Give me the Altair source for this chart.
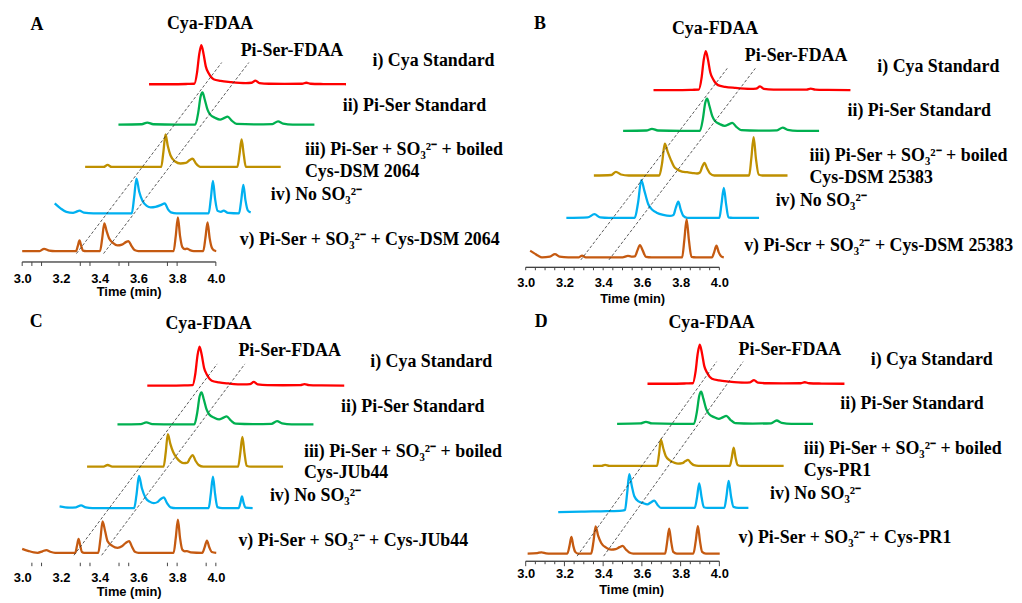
import altair as alt
import pandas as pd

# ---------------- data ----------------
# Each trace: (own retention time in min, intensity in a.u. above its own baseline)
TRACE_NAMES = ["i", "ii", "iii", "iv", "v"]
COLORS = ["#FF0000", "#00B050", "#BF9000", "#00B0F0", "#C55A11"]

STD_CYA = [(3.000, 0), (3.120, 0), (3.200, 0.3), (3.234, 0.5), (3.248, 12), (3.259, 30), (3.270, 39.3),
           (3.281, 31), (3.293, 18), (3.308, 11), (3.333, 5), (3.370, 3.3), (3.420, 2.2), (3.500, 1.2),
           (3.530, 1.5), (3.550, 3.7), (3.570, 1.2), (3.620, 0.5), (3.700, 0.4), (3.790, 0.5),
           (3.812, 1.5), (3.835, 0.5), (3.900, 0.2), (4.017, 0)]
STD_PISER = [(3.000, 0), (3.120, 0.3), (3.149, 2), (3.180, 0.3), (3.300, 0), (3.397, 0), (3.412, 12),
             (3.424, 28), (3.434, 32.3), (3.446, 25), (3.460, 15), (3.474, 10), (3.500, 6.7), (3.525, 5),
             (3.545, 6.5), (3.564, 8), (3.585, 4), (3.610, 0.7), (3.700, 0.2), (3.795, 0.5), (3.824, 3.3),
             (3.850, 1), (3.900, 0), (4.012, 0)]

A_III = [(3.000, 0), (3.095, 0), (3.116, 2), (3.137, 0), (3.393, 0), (3.404, 15), (3.415, 32.7), (3.427, 21),
         (3.441, 11.5), (3.465, 5.5), (3.492, 3.5), (3.520, 4), (3.540, 7), (3.555, 8.3), (3.572, 3.5),
         (3.595, 0), (3.786, 0), (3.797, 12.5), (3.808, 27.7), (3.819, 12.5), (3.830, 0), (4.010, 0)]
A_IV = [(3.000, 10), (3.030, 5), (3.060, 1.5), (3.095, 0.5), (3.110, 1.5), (3.128, 2.7), (3.150, 0.7),
        (3.200, 0), (3.398, 0), (3.410, 16), (3.422, 35), (3.436, 22), (3.453, 12.7), (3.475, 7.5),
        (3.496, 6), (3.520, 6.5), (3.550, 8.5), (3.568, 10), (3.585, 4), (3.600, 1), (3.630, 0), (3.795, 0),
        (3.806, 14.7), (3.817, 32.7), (3.828, 14.7), (3.841, 2.5), (3.858, 1.5), (3.872, 2.7), (3.895, 0.5),
        (3.952, 0), (3.963, 13), (3.974, 28.7), (3.985, 13), (3.997, 3), (4.012, 1)]
A_V = [(3.000, 0), (3.090, 0), (3.113, 2.3), (3.140, 0.5), (3.170, 0), (3.278, 0), (3.287, 5), (3.296, 10.7),
       (3.305, 5), (3.314, 0.5), (3.330, 0), (3.402, 0), (3.413, 12.5), (3.424, 28), (3.436, 20), (3.450, 12.3),
       (3.470, 8), (3.492, 5.7), (3.515, 6.5), (3.535, 9), (3.549, 10), (3.565, 5), (3.580, 1), (3.600, 0),
       (3.782, 0), (3.793, 15.3), (3.804, 34), (3.815, 15.3), (3.827, 4), (3.840, 2), (3.851, 2.5),
       (3.866, 1), (3.886, 0), (3.935, 0), (3.946, 13), (3.957, 29), (3.968, 13), (3.980, 3), (3.992, 0.5),
       (4.002, 0)]

B_III = [(3.000, 0), (3.090, 0.5), (3.114, 3.7), (3.140, 1), (3.180, 0), (3.338, 0), (3.352, 12), (3.366, 32),
         (3.381, 24), (3.397, 16), (3.414, 9), (3.431, 6), (3.455, 4), (3.482, 3.3), (3.510, 2.5), (3.533, 2),
         (3.548, 3), (3.560, 9), (3.571, 12.7), (3.585, 7), (3.600, 2), (3.622, 0), (3.802, 0), (3.813, 17),
         (3.825, 38.7), (3.837, 17), (3.851, 1), (3.870, 0), (4.000, 0)]
B_IV = [(3.000, 0), (3.110, 0.5), (3.145, 3.7), (3.175, 0.5), (3.220, 0), (3.353, 0), (3.370, 15), (3.387, 38),
        (3.402, 28), (3.423, 13.7), (3.445, 8), (3.466, 5.3), (3.500, 3), (3.535, 2), (3.553, 3), (3.565, 10),
        (3.578, 16.3), (3.591, 8), (3.604, 2), (3.625, 0), (3.790, 0), (3.801, 13.6), (3.813, 30.3),
        (3.825, 13.6), (3.837, 0.5), (3.860, 0), (3.995, 0)]
B_V = [(3.023, 6.7), (3.045, 4), (3.065, 1.5), (3.084, 0), (3.125, 0.8), (3.151, 3.3), (3.175, 0.8), (3.220, 0),
       (3.275, 0), (3.291, 1.7), (3.310, 0), (3.500, 0), (3.528, 1.5), (3.545, 0.8), (3.564, 1), (3.577, 7),
       (3.590, 12.3), (3.604, 7), (3.621, 0.5), (3.650, 0), (3.808, 0), (3.819, 17), (3.831, 38.3),
       (3.843, 17), (3.856, 0.5), (3.880, 0), (3.962, 0), (3.973, 5), (3.985, 11.7), (3.997, 5), (4.010, 1),
       (4.023, 0)]

C_III = [(3.000, 0), (3.085, 0), (3.106, 1.7), (3.130, 0), (3.395, 0), (3.406, 14), (3.417, 32.7), (3.430, 23),
         (3.444, 15), (3.462, 9), (3.482, 5), (3.500, 3.5), (3.518, 4), (3.530, 8), (3.545, 11.7), (3.560, 6),
         (3.576, 1.7), (3.600, 0), (3.780, 0), (3.791, 13.5), (3.802, 30), (3.813, 13.5), (3.824, 1),
         (3.845, 0), (4.012, 0)]
C_IV = [(3.000, 1.7), (3.050, 0.5), (3.085, 0.8), (3.111, 2.7), (3.135, 0.8), (3.170, 0), (3.385, 0),
        (3.397, 13), (3.410, 32.3), (3.425, 20), (3.445, 10), (3.465, 6.5), (3.487, 5), (3.505, 6), (3.522, 9),
        (3.538, 10.7), (3.555, 5), (3.573, 0.8), (3.600, 0), (3.770, 0), (3.781, 14.3), (3.792, 31.7),
        (3.803, 14.3), (3.815, 1), (3.840, 0), (3.925, 0), (3.934, 5.5), (3.942, 11.7), (3.950, 5.5),
        (3.960, 0.5), (3.997, 0)]
C_V = [(3.000, 4), (3.030, 2), (3.060, 0.3), (3.080, 0), (3.105, 1.5), (3.125, 2.7), (3.145, 1), (3.170, 0),
       (3.274, 0), (3.283, 7), (3.291, 14), (3.300, 7), (3.308, 1), (3.320, 0), (3.393, 0), (3.404, 14),
       (3.415, 31.7), (3.428, 22), (3.441, 11.7), (3.465, 7), (3.492, 5), (3.515, 6.5), (3.535, 10),
       (3.552, 11.7), (3.567, 6), (3.582, 1), (3.600, 0), (3.782, 0), (3.793, 15), (3.804, 33.3), (3.815, 15),
       (3.827, 3), (3.840, 1.5), (3.851, 1.7), (3.870, 0.5), (3.930, 0), (3.942, 5.5), (3.954, 12.3),
       (3.966, 5.5), (3.979, 0.8), (4.002, 0)]

D_III = [(3.000, 0), (3.045, 0), (3.063, 1), (3.085, 0), (3.331, 0), (3.341, 11), (3.351, 26.3), (3.363, 18),
         (3.376, 10), (3.397, 5.5), (3.419, 3.3), (3.440, 2.3), (3.462, 2.8), (3.478, 4.8), (3.491, 6),
         (3.506, 3), (3.522, 0.7), (3.545, 0), (3.707, 0), (3.717, 8), (3.727, 18.3), (3.737, 8), (3.747, 1),
         (3.765, 0), (3.985, 0)]
D_IV = [(3.000, -4.3), (3.060, -4), (3.137, -3.7), (3.250, -3.3), (3.330, -2.7), (3.345, -2), (3.356, 15),
        (3.367, 34), (3.380, 22), (3.393, 11.7), (3.415, 6.5), (3.436, 5), (3.460, 3.5), (3.478, 5.5),
        (3.496, 7.3), (3.513, 3), (3.530, 0), (3.705, 0), (3.717, 11), (3.728, 24.7), (3.740, 11),
        (3.752, 0.7), (3.770, 0), (3.858, 0), (3.869, 12), (3.880, 27.3), (3.892, 12), (3.905, 1),
        (3.930, 0), (3.982, 0)]
D_V = [(3.010, 0), (3.060, 0.5), (3.082, 1.3), (3.105, 0.3), (3.130, 0), (3.215, 0), (3.226, 7.5),
       (3.236, 16.7), (3.246, 7.5), (3.256, 1.7), (3.270, 0), (3.338, 0), (3.350, 12), (3.361, 27.3),
       (3.374, 18), (3.390, 10.7), (3.415, 6), (3.441, 4), (3.465, 4.5), (3.485, 6.5), (3.501, 7.7),
       (3.518, 4), (3.535, 1), (3.555, 0), (3.720, 0), (3.730, 11), (3.741, 25), (3.752, 11), (3.762, 1.7),
       (3.780, 0), (3.866, 0), (3.878, 12.5), (3.889, 27.7), (3.900, 12.5), (3.911, 1.7), (3.930, 0),
       (4.002, 0)]

# stacking of traces i..v: time shift (min) and baseline (a.u.)
A_DT = [0.655, 0.497, 0.325, 0.168, 0.0]
A_BASE = [179.0, 138.4, 95.7, 49.0, 11.0]
B_DT = [0.660, 0.503, 0.352, 0.210, 0.0]
B_BASE = [178.4, 137.4, 92.4, 49.7, 10.0]
C_DT = [0.646, 0.492, 0.335, 0.193, 0.0]
C_BASE = [176.8, 137.8, 95.2, 53.5, 8.5]
D_DT = [0.629, 0.472, 0.347, 0.168, 0.0]
D_BASE = [178.7, 138.4, 96.0, 53.7, 7.7]

# retention times for the dashed guides: Cya-FDAA, Pi-Ser-FDAA
A_RT = [3.290, 3.430]
B_RT = [3.295, 3.440]
C_RT = [3.277, 3.420]
D_RT = [3.275, 3.412]

AXIS_LABELS = [3.0, 3.2, 3.4, 3.6, 3.8, 4.0]
A_TICKS = [3.0, 3.05, 3.1, 3.3, 3.35, 3.5, 3.55, 3.75, 3.8, 4.0]
B_TICKS = [3.0, 3.05, 3.1, 3.15, 3.2, 3.25, 3.3, 3.35, 3.4, 3.45, 3.5, 3.55, 3.6, 3.65, 3.7, 3.75, 3.8,
           3.85, 3.9, 3.95, 4.0]
C_TICKS = [3.05, 3.1, 3.3, 3.35, 3.5, 3.55, 3.75, 3.8, 3.95, 4.0]
D_TICKS_MAJOR = [3.0, 3.2, 3.4, 3.6, 3.8, 4.0]
D_TICKS_MINOR = [3.05, 3.1, 3.15, 3.25, 3.3, 3.35, 3.45, 3.5, 3.55, 3.65, 3.7, 3.75, 3.85, 3.9, 3.95]

SO3 = "SO\u2083\u00b2\u207b"
A_TEXT = ["A", "Cya-FDAA", "Pi-Ser-FDAA", "i) Cya Standard", "ii) Pi-Ser Standard",
          f"iii) Pi-Ser + {SO3} + boiled", "Cys-DSM 2064", f"iv) No {SO3}", f"v) Pi-Ser + {SO3} + Cys-DSM 2064"]
B_TEXT = ["B", "Cya-FDAA", "Pi-Ser-FDAA", "i) Cya Standard", "ii) Pi-Ser Standard",
          f"iii) Pi-Ser + {SO3} + boiled", "Cys-DSM 25383", f"iv) No {SO3}", f"v) Pi-Scr + {SO3} + Cys-DSM 25383"]
C_TEXT = ["C", "Cya-FDAA", "Pi-Ser-FDAA", "i) Cya Standard", "ii) Pi-Ser Standard",
          f"iii) Pi-Ser + {SO3} + boiled", "Cys-JUb44", f"iv) No {SO3}", f"v) Pi-Ser + {SO3} + Cys-JUb44"]
D_TEXT = ["D", "Cya-FDAA", "Pi-Ser-FDAA", "i) Cya Standard", "ii) Pi-Ser Standard",
          f"iii) Pi-Ser + {SO3} + boiled", "Cys-PR1", f"iv) No {SO3}", f"v) Pi-Ser + {SO3} + Cys-PR1"]
X_TITLE = "Time (min)"

# ---------------- layout (pixels inside each panel) ----------------
W, H = 490, 259
XDOM = [2.9267, 5.4395]
A_YDOM = [-5.3, 253.7]
O_YDOM = [0.0, 259.0]
A_TX = [22.7, 203.5, 234.3, 367, 337, 299, 299, 264.7, 233.3]
A_TY = [14.7, 13.7, 41.3, 51.3, 96.3, 141, 163, 186.3, 231.3]
B_TX = [22.7, 205, 235, 368.3, 338.3, 300, 300, 266, 234.3]
B_TY = [13.7, 19.3, 46.3, 57, 102, 147, 168.7, 192, 238]
C_TX = [22, 202, 232, 364.7, 335.3, 298, 298, 263.7, 232]
C_TY = [17.7, 20.3, 47.7, 58.7, 103.3, 148.7, 170, 193.3, 238.3]
D_TX = [23.3, 201.5, 228.7, 361.7, 331, 294.3, 294.3, 260.3, 228.7]
D_TY = [17.7, 18.7, 46, 56, 101, 146, 167.7, 191, 235.3]
DASH_SPAN = [-0.015, 1.13]
SERIF = "Liberation Serif"
SANS = "Liberation Sans"


def build_panel(traces, dt, base, rt, ydom, texts, tx, ty, title_xy, label_pad,
                ticks, tick_start, tick_len, axis_line):
    px_per_min = W / (XDOM[1] - XDOM[0])
    u_per_px = (ydom[1] - ydom[0]) / H

    def px2x(px):
        return XDOM[0] + px / px_per_min

    def py2y(py):
        return ydom[1] - py * u_per_px

    xs = alt.Scale(domain=XDOM, nice=False, zero=False)
    ysc = alt.Scale(domain=ydom, nice=False, zero=False)
    xaxis = alt.Axis(values=AXIS_LABELS, format=".1f", ticks=False, domain=False, grid=False,
                     labelFont=SANS, labelFontSize=13, labelFontWeight="bold", labelColor="#000000",
                     labelPadding=label_pad, title=None)

    def X(f):
        return alt.X(f, type="quantitative", scale=xs, axis=xaxis)

    def Y(f):
        return alt.Y(f, type="quantitative", scale=ysc, axis=None)

    rows = []
    for k, pts in enumerate(traces):
        for j, (t, v) in enumerate(pts):
            rows.append({"trace": TRACE_NAMES[k], "idx": j, "x": t + dt[k], "y": v + base[k]})
    df_tr = pd.DataFrame(rows)

    grows = []
    for g, r in enumerate(rt):
        for j, lam in enumerate(DASH_SPAN):
            grows.append({"guide": g, "idx": j,
                          "x": r + dt[4] + lam * (dt[0] - dt[4]),
                          "y": base[4] + lam * (base[0] - base[4])})
    df_g = pd.DataFrame(grows)

    df_tk = pd.DataFrame({"x": ticks,
                          "y": [-tick_start * u_per_px] * len(ticks),
                          "y2": [-(tick_start + L) * u_per_px for L in tick_len]})

    left_idx = [i for i in range(len(texts)) if i != 1]
    df_tl = pd.DataFrame({"label": [texts[i] for i in left_idx],
                          "x": [px2x(tx[i]) for i in left_idx],
                          "y": [py2y(ty[i]) for i in left_idx]})
    df_tc = pd.DataFrame({"label": [texts[1]], "x": [px2x(tx[1])], "y": [py2y(ty[1])]})
    df_ti = pd.DataFrame({"label": [X_TITLE], "x": [px2x(title_xy[0])], "y": [py2y(title_xy[1])]})

    layers = []
    layers.append(alt.Chart(df_tr).mark_line(strokeWidth=2.3, interpolate="monotone").encode(
        x=X("x"), y=Y("y"),
        color=alt.Color("trace:N", scale=alt.Scale(domain=TRACE_NAMES, range=COLORS), legend=None),
        order=alt.Order("idx:Q")))
    layers.append(alt.Chart(df_g).mark_line(strokeWidth=0.8, strokeDash=[3, 2], color="#333333").encode(
        x=X("x"), y=Y("y"), detail="guide:N", order=alt.Order("idx:Q")))
    if axis_line:
        df_ax = pd.DataFrame({"x": [AXIS_LABELS[0]], "x2": [AXIS_LABELS[-1]], "y": [0.0]})
        layers.append(alt.Chart(df_ax).mark_rule(color="#000000", strokeWidth=1).encode(
            x=X("x"), x2=alt.X2("x2"), y=Y("y")))
    layers.append(alt.Chart(df_tk).mark_rule(color="#444444", strokeWidth=1).encode(
        x=X("x"), y=Y("y"), y2=alt.Y2("y2")))
    layers.append(alt.Chart(df_tl).mark_text(align="left", baseline="middle", font=SERIF, fontSize=18,
                                             fontWeight="bold", color="#000000").encode(
        x=X("x"), y=Y("y"), text="label:N"))
    layers.append(alt.Chart(df_tc).mark_text(align="center", baseline="middle", font=SERIF, fontSize=18,
                                             fontWeight="bold", color="#000000").encode(
        x=X("x"), y=Y("y"), text="label:N"))
    layers.append(alt.Chart(df_ti).mark_text(align="center", baseline="middle", font=SANS, fontSize=13,
                                             fontWeight="bold", color="#000000").encode(
        x=X("x"), y=Y("y"), text="label:N"))
    return alt.layer(*layers).properties(width=W, height=H)


pA = build_panel([STD_CYA, STD_PISER, A_III, A_IV, A_V], A_DT, A_BASE, A_RT, A_YDOM,
                 A_TEXT, A_TX, A_TY, (122, 284.3), 5.0,
                 A_TICKS, 0, [4] * len(A_TICKS), True)
pB = build_panel([STD_CYA, STD_PISER, B_III, B_IV, B_V], B_DT, B_BASE, B_RT, O_YDOM,
                 B_TEXT, B_TX, B_TY, (122, 290.5), 9.7,
                 B_TICKS, 0, [3] * len(B_TICKS), True)
pC = build_panel([STD_CYA, STD_PISER, C_III, C_IV, C_V], C_DT, C_BASE, C_RT, O_YDOM,
                 C_TEXT, C_TX, C_TY, (122, 290.3), 10.4,
                 C_TICKS, 1.5, [3.5] * len(C_TICKS), False)
pD = build_panel([STD_CYA, STD_PISER, D_III, D_IV, D_V], D_DT, D_BASE, D_RT, O_YDOM,
                 D_TEXT, D_TX, D_TY, (121, 288.3), 6.4,
                 D_TICKS_MAJOR + D_TICKS_MINOR, 0,
                 [5] * len(D_TICKS_MAJOR) + [3] * len(D_TICKS_MINOR), True)

chart = alt.concat(pA, pB, pC, pD, columns=2, spacing={"row": 37, "column": 17},
                   bounds="flush", padding=0, background="white").configure_view(stroke=None)

chart.save("out.html", embed_options={"renderer": "svg", "actions": False})
